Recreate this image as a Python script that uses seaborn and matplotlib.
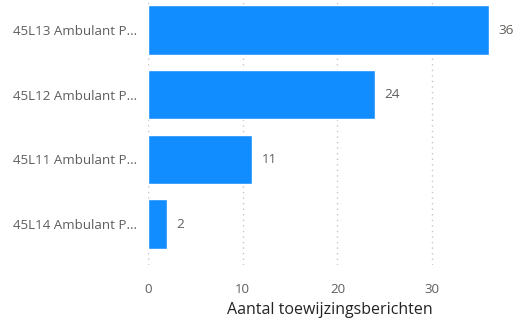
import matplotlib
matplotlib.use("Agg")
import matplotlib.pyplot as plt
import seaborn as sns
import pandas as pd

categories = ["45L13 Ambulant P...", "45L12 Ambulant P...", "45L11 Ambulant P...", "45L14 Ambulant P..."]
values = [36, 24, 11, 2]
xticks = [0, 10, 20, 30]
xlabel = "Aantal toewijzingsberichten"

sns.set_theme(style="white")
plt.rcParams['font.family'] = ['Open Sans', 'DejaVu Sans']

df = pd.DataFrame({"cat": categories, "val": values})

fig = plt.figure(figsize=(5.15, 3.21), dpi=100)
ax = fig.add_axes([148/515, 56/321, 364.6/515, 265/321])

sns.barplot(data=df, x="val", y="cat", color="#118DFF", saturation=1, width=0.76, ax=ax, zorder=3)

ax.set_xlim(0, 38.5)
ax.set_ylim(3.634, -0.464)
ax.set_xticks(xticks)
ax.set_xticklabels([str(t) for t in xticks], color="#605E5C", fontsize=9.5)
ax.tick_params(axis='x', length=0, pad=13)
ax.tick_params(axis='y', length=0, pad=8, labelsize=9.6, labelcolor="#605E5C")
ax.set_ylabel("")
ax.set_xlabel(xlabel, fontsize=11.5, color="#252423", labelpad=4)
for s in ax.spines.values():
    s.set_visible(False)
ax.grid(axis='x', linestyle=(0, (1, 3)), color="#C8C6C4", linewidth=1, zorder=0)
ax.grid(axis='y', visible=False)

for i, v in enumerate(values):
    ax.text(v + 1.0, i, str(v), va='center', ha='left', fontsize=9.7, color="#605E5C")

fig.savefig("out.png", dpi=100)
